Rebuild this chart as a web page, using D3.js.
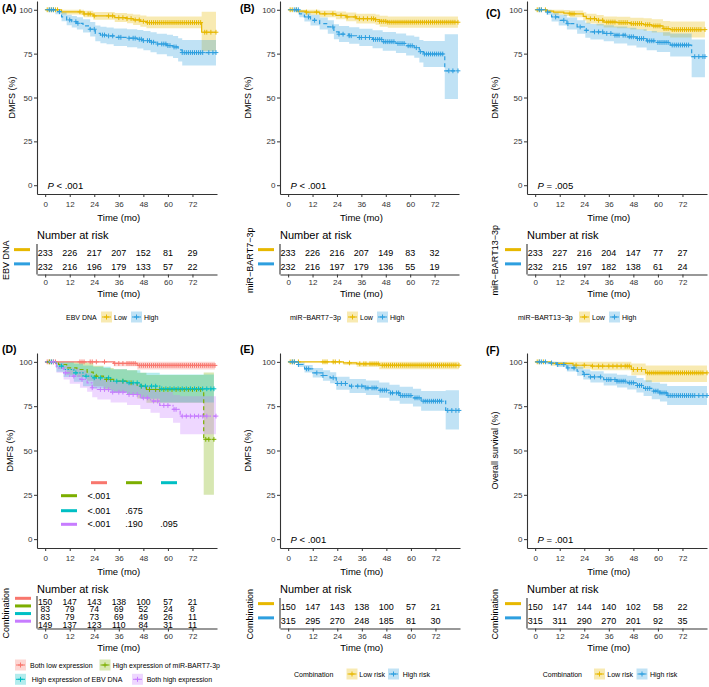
<!DOCTYPE html>
<html><head><meta charset="utf-8">
<script src="https://cdn.jsdelivr.net/npm/d3@7"></script>
<style>body{margin:0;background:#fff}svg{display:block}text{font-family:"Liberation Sans",Arial,sans-serif}</style>
</head><body><svg id="c" width="709" height="687"></svg>
<script>
const timeTicks=[0,12,24,36,48,60,72];
const survTicks=[0,25,50,75,100];
// step rows: [time, survival %, lower CI, upper CI]
const aLow=[[0,100,100,100],[8,98.8,97.3,100],[19,97.6,95.7,99.5],[23.5,96.5,94.3,98.8],[34,95.5,93,98.2],[40,95,92.3,97.8],[43,94.2,91.3,97.3],[46.5,93.4,90.3,96.7],[49.5,92.7,89.4,96.1],[76.5,87.2,76.5,98.9],[83.5,87.2,76.5,98.9]];
const aHigh=[[0,100,100,100],[5,98.9,97.5,100],[8,96,93.4,98.6],[10.5,94.2,91.2,97.2],[13,93.2,89.9,96.5],[15.5,92.3,88.8,95.8],[18.5,90.8,87,94.6],[22,88.9,84.7,93.1],[24.5,86.6,82.1,91.1],[27,85.6,80.9,90.3],[30,85.1,80.3,89.9],[33.5,84.3,79.3,89.3],[40,83.8,78.7,88.9],[45,83.2,77.9,88.5],[48,82.4,76.9,87.9],[51.5,81.5,75.8,87.2],[54.5,80.5,74.6,86.4],[59.5,79.6,73.5,85.7],[62.5,78.8,72.5,85.1],[65,77.1,70.5,83.7],[67,75.6,68.2,82.8],[83.5,75.6,68.2,82.8]];
const bLow=[[0,100,100,100],[4.5,99.2,98.1,100],[8.5,98.7,97.2,100],[15.5,97.7,95.8,99.6],[23.5,96.8,94.6,99],[28.5,95.9,93.4,98.4],[33.5,94.9,92.2,97.7],[43,94.4,91.5,97.3],[45,93.4,90.3,96.6],[49,92.9,89.8,96.1],[83.5,92.9,89.8,96.1]];
const bHigh=[[0,100,100,100],[5.5,97.7,95.8,99.6],[8,95.9,93.3,98.5],[11,94,91,97.1],[15.5,92.1,88.7,95.6],[19.5,90.2,86.4,94.1],[22.5,87.4,83.2,91.8],[25,86.1,81.7,90.7],[30,85.2,80.6,90],[35,84.2,79.4,89.2],[41.5,83.1,78.1,88.4],[46.5,81.8,76.6,87.3],[53,80.8,75.4,86.5],[58,79.5,73.9,85.4],[62,78.4,72.6,84.6],[64.5,76.1,69.9,82.8],[66.5,74.8,67.4,82.2],[77,65.2,49.2,86.1],[83.5,65.2,49.2,86.1]];
const cLow=[[0,100,100,100],[5.5,99.2,98.1,100],[9,98.7,97.2,100],[14,98.1,96.4,99.8],[17,97.7,95.8,99.6],[23.5,96.2,93.9,98.6],[25,94.9,92.2,97.7],[30,94,91.1,97],[33.5,93,89.9,96.2],[40,92.7,89.5,96],[46.5,92.1,88.8,95.5],[53,91.5,88,95.1],[57,90.8,87.1,94.6],[62.5,89.3,85.2,93.6],[66,88.7,84.2,93.3],[83,88.7,84.2,93.3]];
const cHigh=[[0,100,100,100],[5.5,98.7,97.2,100],[8,95.9,93.3,98.5],[11.5,94,91,97.1],[15.5,92.1,88.7,95.6],[20.5,90.2,86.4,94.1],[24.5,88.3,84.1,92.6],[27,87.4,83.1,91.9],[33.5,86.5,82,91.2],[38.5,85.5,80.8,90.4],[45,84.6,79.7,89.7],[49.5,83.6,78.5,88.9],[54.5,82.3,77,87.9],[59.5,81.4,75.9,87.2],[66,79.9,73.4,86.5],[76.5,73.3,61.5,83],[83,73.3,61.5,83]];
const dRed=[[0,100,100,100],[33.5,99.1,97.5,100],[45,98,95.7,100],[83,98,95.7,100]];
const dGreen=[[0,100,100,100],[6.5,98.5,96.1,100],[10.5,96.6,92.8,100],[15.5,95.7,91.4,100],[20.5,94.2,89.3,99.3],[23.5,91.9,86.3,97.8],[28.5,90.1,84,96.6],[33.5,89.1,82.8,95.8],[40,88.2,81.6,95.3],[45,86.3,79.3,93.9],[49.5,84.4,76.9,92.6],[77.5,56.3,25,94],[82.5,56.3,25,94]];
const dTeal=[[0,100,100,100],[5.5,97.6,94.4,100],[9,95.7,91.4,100],[14,93.8,88.8,99],[18.5,91.9,86.2,97.9],[23.5,91,85,97.2],[32,89.1,82.7,95.8],[40,88.2,81.5,95.2],[46.5,86.3,79.2,93.8],[56,84.8,77.1,92.9],[82.5,84.8,77.1,92.9]];
const dPurple=[[0,100,100,100],[5.5,96.6,93.8,99.5],[9,93.8,90,97.8],[12,91.9,87.6,96.4],[17,90.1,85.4,95],[20.5,88.2,83.2,93.5],[23,85.4,80,91.1],[25.5,84.4,78.8,90.3],[32,82.9,77.1,89.1],[40,81.6,75.6,88],[46.5,79.7,73.4,86.5],[51.5,77.9,71.3,85],[56,75.4,68.4,83],[62.5,73.2,65.6,81.3],[66,69.4,59.1,80.6],[83.5,69.4,59.1,80.6]];
const eLow=[[0,100,100,100],[27,99.4,98.2,100],[33.5,98.9,97.2,100],[44.5,98.1,95.9,100],[83.5,98.1,95.9,100]];
const eHigh=[[0,100,100,100],[5,98.5,97.1,99.9],[8,96.1,94,98.3],[12,93.8,91.2,96.5],[17,92.3,89.4,95.3],[20.5,91,87.9,94.2],[23.5,87.8,84.2,91.6],[30,86.3,82.5,90.3],[38,85.3,81.3,89.5],[44.5,84,79.8,88.4],[49.5,82.5,78.1,87.1],[54.5,81,76.4,85.9],[61,79.7,74.8,84.9],[65,77.8,72.4,83.5],[77,72.6,61.8,84],[83.5,72.6,61.8,84]];
const fLow=[[0,100,100,100],[7.5,99.1,97.8,100],[18.5,98.1,96.1,100],[27.5,97.6,95.3,100],[47,95.7,92.4,99.1],[54,93.8,88.6,98],[84,93.8,88.6,98]];
const fHigh=[[0,100,100,100],[5.5,99.4,98.6,100],[10.5,98.5,97.1,99.9],[15.5,96.6,94.5,98.7],[20.5,94.7,92.2,97.3],[23.5,92.9,90,95.9],[27,91.5,88.4,94.7],[33.5,90,86.6,93.5],[40,89.1,85.5,92.8],[45,88.2,84.4,92.1],[49.5,86.7,82.7,90.9],[53,85,80.7,89.6],[57,83.5,78.9,88.4],[61,82.5,77.7,87.6],[64.5,81,75.6,86.4],[84,81,75.6,86.4]];
// censoring times (months)
const aLowCens=[1,2,3,4,5,6,17,19,21,22,24,31,33,36,38,40,42,44,46,48,50,51,52,53,54,55,56,57,58,59,60,61,62,63,64,65,66,67,68,69,70,71,72,73,74,75,76,78,79,81,83.5];
const aHighCens=[2,3,4,7,12,15,16,22,24,28,29,31,33,36,37,41,43,44,46,47,48,50,51,52,53,55,57,58,59,60,61,63,64,67,68,69,70,71,72,73,74,75,76,77,80,82,83.5];
const bLowCens=[1,2,4,9,14,18,22,26,29,33,35,37,39,41,42,43,45,46,47,48,49,50,51,52,53,54,55,56,57,58,59,60,61,62,63,64,65,66,67,68,69,70,71,72,73,74,75,76,77,78,79,80,81,82,83.5];
const bHighCens=[3,4,5,10,13,22,25,27,30,31,35,36,38,40,42,43,44,45,46,47,48,49,50,51,52,54,55,56,57,59,60,61,63,65,67,68,69,70,71,72,73,74,75,76,79,81,83.5];
const cLowCens=[1,2,3,5,17,18,19,27,29,31,33,35,36,37,38,39,41,42,43,44,45,47,48,49,50,51,52,54,55,56,58,59,60,61,63,64,65,67,68,69,70,71,72,73,74,75,76,77,78,79,80,81,83];
const cHighCens=[2,3,6,10,14,16,22,25,29,31,33,35,37,39,40,41,43,44,46,47,48,50,51,52,53,55,56,57,58,60,61,62,63,64,65,67,68,69,70,71,72,73,74,75,78,80,82,83];
const dRedCens=[1,2,3,5,17,18,19,22,23,25,29,34,36,38,40,41,42,43,44,46,47,48,49,50,51,52,53,54,55,56,57,58,59,60,61,62,63,64,65,66,67,68,69,70,71,72,73,74,75,76,77,78,79,80,81,82,83];
const dGreenCens=[2,4,25,30,32,38,42,47,51,54,56,58,60,62,64,66,68,70,72,74,76,78.5,80,82.5];
const dTealCens=[3,8,15,20,24,27,31,35,38,41,43,45,47,49,52,54,57,59,61,63,65,67,69,71,73,75,77,79,81,82.5];
const dPurpleCens=[4,10,14,18,23,27,29,31,33,36,38,41,43,45,48,50,53,55,58,60,63,64,67,69,71,73,75,77,79,83.5];
const eLowCens=[1,2,3,5,17,18,19,22,23,25,30,35,37,38,40,41,42,43,44,46,47,48,49,50,51,52,53,54,55,56,57,58,59,60,61,62,63,64,65,66,67,68,69,70,71,72,73,74,75,76,77,78,79,80,81,82,83.5];
const eHighCens=[2,3,5,9,10,14,17,22,24,26,28,31,34,36,38,39,41,42,43,45,46,47,48,50,51,53,54,55,56,57,58,59,60,62,63,64,66,67,68,69,70,71,72,73,74,75,78,80,82,83.5];
const fLowCens=[1,2,4,20,24,28,31,33,36,38,40,42,44,45,46,48,50,52,55,56,57,58,59,60,61,62,63,64,65,66,67,68,69,70,71,72,73,74,75,76,77,78,79,80,81,82,84];
const fHighCens=[2,3,5,8,11,14,16,19,24,27,29,32,35,36,37,39,40,41,42,43,44,46,47,48,50,51,52,54,55,56,58,59,60,61,62,63,64,65,66,67,68,69,70,71,72,73,74,75,76,77,78,80,82,84];
// numbers at risk
const riskA=[[233,226,217,207,152,81,29],[232,216,196,179,133,57,22]];
const riskB=[[233,226,216,207,149,83,32],[232,216,197,179,136,55,19]];
const riskC=[[233,227,216,204,147,77,27],[232,215,197,182,138,61,24]];
const riskD=[[150,147,143,138,100,57,21],[83,79,74,69,52,24,8],[83,79,73,69,49,26,11],[149,137,123,110,84,31,11]];
const riskE=[[150,147,143,138,100,57,21],[315,295,270,248,185,81,30]];
const riskF=[[150,147,144,140,102,58,22],[315,311,290,270,201,92,35]];
// pairwise p values (panel D)
const pRowGreen=["<.001"];
const pRowTeal=["<.001",".675"];
const pRowPurple=["<.001",".190",".095"];
const groupsD=["Both low expression","High expression of miR-BART7-3p","High expression of EBV DNA","Both high expression"];
const groups2=["Low","High"];
const risk2=["Low risk","High risk"];

const YEL="#E7B800",BLU="#2E9FDF",RED="#F8766D",GRN="#7CAE00",TEA="#00BFC4",PUR="#C77CFF";
const svg=d3.select("#c");
const FONT='"Liberation Sans",Arial,sans-serif';

function stepAt(steps,t){let s=steps[0][1];for(const r of steps){if(r[0]<=t)s=r[1];else break;}return s;}

function styleAxis(a){
  a.select(".domain").attr("stroke","#333").attr("stroke-width",1.1);
  a.selectAll(".tick line").attr("stroke","#333");
  a.selectAll(".tick text").attr("font-size",8).attr("fill","#333").attr("font-family",FONT);
}

function panel(cfg){
  const g=svg.append("g");
  const x=d3.scaleLinear().domain([-4,84]).range([cfg.left,cfg.right]);
  const y=d3.scaleLinear().domain([-5,105]).range([cfg.bottom,cfg.top]);
  const area=d3.area().curve(d3.curveStepAfter).x(d=>x(d[0])).y0(d=>y(d[2])).y1(d=>y(d[3]));
  const line=d3.line().curve(d3.curveStepAfter).x(d=>x(d[0])).y(d=>y(d[1]));
  cfg.curves.forEach(c=>g.append("path").attr("d",area(c.steps)).attr("fill",c.color).attr("fill-opacity",0.3));
  cfg.curves.forEach(c=>{
    g.append("path").attr("d",line(c.steps)).attr("fill","none").attr("stroke",c.color).attr("stroke-width",1.2).attr("stroke-dasharray",c.dash||null);
    let d="";
    c.cens.forEach(t=>{const cx=x(t),cy=y(stepAt(c.steps,t));d+=`M${cx-2.4},${cy}H${cx+2.4}M${cx},${cy-2.4}V${cy+2.4}`;});
    g.append("path").attr("d",d).attr("stroke",c.color).attr("stroke-width",1).attr("fill","none");
  });
  const gx=g.append("g").attr("transform",`translate(0,${cfg.bottom})`).call(d3.axisBottom(x).tickValues(timeTicks).tickSize(3).tickSizeOuter(0).tickPadding(4));
  const gy=g.append("g").attr("transform",`translate(${cfg.left},0)`).call(d3.axisLeft(y).tickValues(survTicks).tickSize(3).tickSizeOuter(0).tickPadding(1.5));
  styleAxis(gx);styleAxis(gy);
  g.append("text").attr("x",x(36)).attr("y",cfg.bottom+23).attr("text-anchor","middle").attr("dominant-baseline","central").attr("font-size",9.5).text("Time (mo)");
  g.append("text").attr("transform",`translate(${cfg.ytx},${(cfg.top+cfg.bottom)/2}) rotate(-90)`).attr("text-anchor","middle").attr("dominant-baseline","central").attr("font-size",9).text(cfg.yTitle);
  g.append("text").attr("x",cfg.lx).attr("y",cfg.ly).attr("dominant-baseline","central").attr("font-size",10.5).attr("font-weight","bold").text(cfg.label);
  if(cfg.p){const t=g.append("text").attr("x",cfg.left+10.5).attr("y",cfg.bottom-9).attr("dominant-baseline","central").attr("font-size",9.5);
    t.append("tspan").attr("font-style","italic").text("P");t.append("tspan").text(cfg.p);}
  // risk table
  const many=cfg.risk.length>2;
  const rt=cfg.bottom+(many?50:52), rb=cfg.bottom+80.5;
  const ry=d3.scaleBand().domain(d3.range(cfg.risk.length)).range([rt,rb]);
  g.append("text").attr("x",cfg.left).attr("y",cfg.bottom+41).attr("dominant-baseline","central").attr("font-size",11).text("Number at risk");
  cfg.risk.forEach((row,i)=>{
    row.forEach((v,j)=>g.append("text").attr("x",x(timeTicks[j])).attr("y",ry(i)+ry.bandwidth()/2).attr("text-anchor","middle").attr("dominant-baseline","central").attr("font-size",many?8.6:9).text(v));
    g.append("rect").attr("x",cfg.barX).attr("width",16).attr("y",ry(i)+ry.bandwidth()/2-3.5-1.5).attr("height",3).attr("fill",cfg.curves[i].color);
  });
  const tx=g.append("g").attr("transform",`translate(0,${rb})`).call(d3.axisBottom(x).tickValues(timeTicks).tickSize(3).tickSizeOuter(0).tickPadding(1.5));
  styleAxis(tx);
  g.append("line").attr("x1",cfg.left).attr("x2",cfg.left).attr("y1",rt-2).attr("y2",rb).attr("stroke","#333").attr("stroke-width",1.1);
  g.append("text").attr("x",x(36)).attr("y",rb+18.5).attr("text-anchor","middle").attr("dominant-baseline","central").attr("font-size",9.5).text("Time (mo)");
  g.append("text").attr("transform",`translate(${cfg.rtx},${(rt+rb)/2}) rotate(-90)`).attr("text-anchor","middle").attr("dominant-baseline","central").attr("font-size",9).text(cfg.rTitle);
  return g;
}

function key(g,kx,ky,color){
  g.append("rect").attr("x",kx).attr("y",ky-5.5).attr("width",11).attr("height",11).attr("fill",color).attr("fill-opacity",0.3);
  g.append("line").attr("x1",kx+1).attr("x2",kx+10).attr("y1",ky).attr("y2",ky).attr("stroke",color).attr("stroke-width",1);
  g.append("path").attr("d",`M${kx+3},${ky}H${kx+8}M${kx+5.5},${ky-2.5}V${ky+2.5}`).attr("stroke",color).attr("stroke-width",1);
}
function legend(lg){
  const g=svg.append("g");
  g.append("text").attr("x",lg.x).attr("y",lg.y).attr("dominant-baseline","central").attr("font-size",7).text(lg.title);
  lg.items.forEach(it=>{key(g,it.kx,lg.y,it.color);g.append("text").attr("x",it.tx).attr("y",lg.y).attr("dominant-baseline","central").attr("font-size",7).text(it.name);});
}

panel({left:37,right:217,top:1,bottom:194,label:"(A)",lx:2,ly:8,yTitle:"DMFS (%)",ytx:12,rTitle:"EBV DNA",rtx:5.5,barX:14,p:" < .001",
  curves:[{steps:aLow,cens:aLowCens,color:YEL},{steps:aHigh,cens:aHighCens,color:BLU,dash:"4,3"}],risk:riskA});
panel({left:280,right:459,top:1,bottom:194,label:"(B)",lx:240,ly:8,yTitle:"DMFS (%)",ytx:248.3,rTitle:"miR\u2212BART7\u22123p",rtx:249.5,barX:258,p:" < .001",
  curves:[{steps:bLow,cens:bLowCens,color:YEL},{steps:bHigh,cens:bHighCens,color:BLU,dash:"4,3"}],risk:riskB});
panel({left:527,right:707,top:1,bottom:194,label:"(C)",lx:486,ly:13,yTitle:"DMFS (%)",ytx:495,rTitle:"miR\u2212BART13\u22123p",rtx:494.7,barX:505,p:" = .005",
  curves:[{steps:cLow,cens:cLowCens,color:YEL},{steps:cHigh,cens:cHighCens,color:BLU,dash:"4,3"}],risk:riskC});
const gD=panel({left:37,right:217,top:353,bottom:548,label:"(D)",lx:2,ly:349,yTitle:"DMFS (%)",ytx:10,rTitle:"Combination",rtx:5.5,barX:15,
  curves:[{steps:dRed,cens:dRedCens,color:RED},{steps:dGreen,cens:dGreenCens,color:GRN,dash:"4,3"},{steps:dTeal,cens:dTealCens,color:TEA,dash:"1.5,1.5"},{steps:dPurple,cens:dPurpleCens,color:PUR,dash:"1.5,2,4,2"}],risk:riskD});
panel({left:280,right:460,top:353,bottom:548,label:"(E)",lx:240,ly:349,yTitle:"DMFS (%)",ytx:248,rTitle:"Combination",rtx:249.5,barX:258,p:" < .001",
  curves:[{steps:eLow,cens:eLowCens,color:YEL},{steps:eHigh,cens:eHighCens,color:BLU,dash:"4,3"}],risk:riskE});
panel({left:527,right:707,top:353,bottom:548,label:"(F)",lx:486,ly:350,yTitle:"Overall survival (%)",ytx:495,rTitle:"Combination",rtx:495.3,barX:505,p:" = .001",
  curves:[{steps:fLow,cens:fLowCens,color:YEL},{steps:fHigh,cens:fHighCens,color:BLU,dash:"4,3"}],risk:riskF});

// pairwise p-value table in D
(function(){
  const colX=[99,134,169], hy=482.7, rowsY=[495.7,510.7,524.3];
  [RED,GRN,TEA].forEach((c,i)=>gD.append("rect").attr("x",colX[i]-8).attr("y",hy-1.5).attr("width",16).attr("height",3).attr("fill",c));
  [[pRowGreen,GRN],[pRowTeal,TEA],[pRowPurple,PUR]].forEach(([vals,c],r)=>{
    gD.append("rect").attr("x",61).attr("y",rowsY[r]-1.5).attr("width",16).attr("height",3).attr("fill",c);
    vals.forEach((v,j)=>gD.append("text").attr("x",colX[j]).attr("y",rowsY[r]).attr("text-anchor","middle").attr("dominant-baseline","central").attr("font-size",9).text(v));
  });
})();

// legends
legend({title:"EBV DNA",x:66,y:317,items:[{name:groups2[0],kx:101,tx:114,color:YEL},{name:groups2[1],kx:131,tx:144,color:BLU}]});
legend({title:"miR\u2212BART7\u22123p",x:290,y:317,items:[{name:groups2[0],kx:347,tx:360,color:YEL},{name:groups2[1],kx:377,tx:390,color:BLU}]});
legend({title:"miR\u2212BART13\u22123p",x:518,y:317,items:[{name:groups2[0],kx:579,tx:592,color:YEL},{name:groups2[1],kx:609,tx:622,color:BLU}]});
legend({title:"Combination",x:294,y:674,items:[{name:risk2[0],kx:346.5,tx:359.3,color:YEL},{name:risk2[1],kx:388,tx:402.7,color:BLU}]});
legend({title:"Combination",x:542.7,y:674,items:[{name:risk2[0],kx:594,tx:607.3,color:YEL},{name:risk2[1],kx:636.5,tx:650,color:BLU}]});
(function(){
  const g=svg.append("g");
  const items=[[groupsD[0],15,30,665,RED],[groupsD[1],99.5,112.7,665,GRN],[groupsD[2],15,31.7,679.3,TEA],[groupsD[3],132,146.7,679.3,PUR]];
  items.forEach(([n,kx,tx,ky,c])=>{key(g,kx,ky,c);g.append("text").attr("x",tx).attr("y",ky).attr("dominant-baseline","central").attr("font-size",7).text(n);});
})();
</script></body></html>
